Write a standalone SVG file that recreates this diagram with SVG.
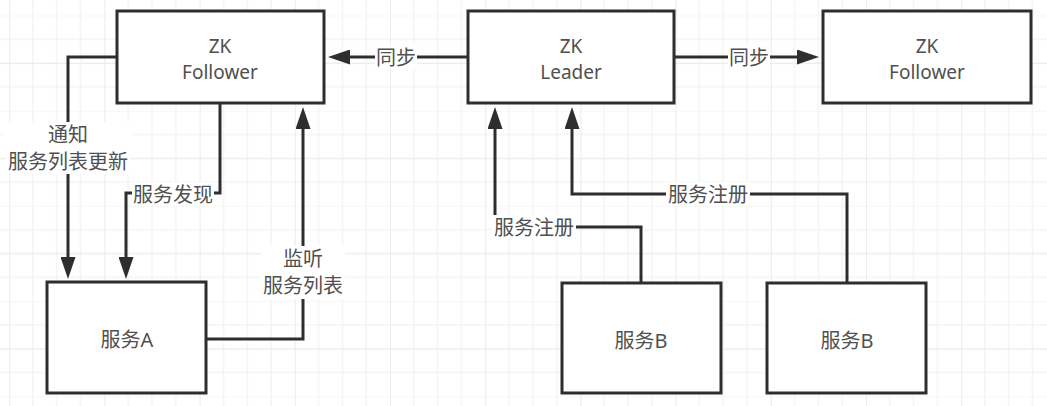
<svg xmlns="http://www.w3.org/2000/svg" width="1047" height="406" viewBox="0 0 1047 406">
<style>
  .box { fill: #ffffff; stroke: #2e2e2e; stroke-width: 3; }
  .edge { fill: none; stroke: #2e2e2e; stroke-width: 3; }
  .lbl { font-family: "Noto Sans", "Noto Sans CJK SC", sans-serif; font-size: 20px; fill: #505050; text-anchor: middle; dominant-baseline: central; }
  .zk { font-size: 19px; }
  .bg { fill: #ffffff; }
</style>
<defs>
  <pattern id="grid" patternUnits="userSpaceOnUse" x="9.2" y="15.5" width="95.2" height="95.2">
    <path d="M0 0V95.2M23.8 0V95.2M47.6 0V95.2M71.4 0V95.2M0 0H95.2M0 23.8H95.2M0 47.6H95.2M0 71.4H95.2" stroke="#efefef" stroke-width="1" fill="none"/>
  </pattern>
  <pattern id="gridmaj" patternUnits="userSpaceOnUse" x="9.2" y="63.1" width="95.2" height="95.2">
    <path d="M0 0V95.2M0 0H95.2" stroke="#e4e4e4" stroke-width="1" fill="none"/>
  </pattern>
  <marker id="arr" markerUnits="userSpaceOnUse" markerWidth="22" markerHeight="15" refX="0" refY="7.5" orient="auto">
    <path d="M0 0L22 7.5L0 15Z" fill="#2e2e2e"/>
  </marker>
</defs>
<rect width="1047" height="406" fill="#ffffff"/>
<rect width="1047" height="406" fill="url(#grid)"/>
<rect width="1047" height="406" fill="url(#gridmaj)"/>

<g id="connectors">
  <path class="edge" d="M468 57H350" marker-end="url(#arr)"/>
  <path class="edge" d="M674 57H797" marker-end="url(#arr)"/>
  <path class="edge" d="M117 57H68V257" marker-end="url(#arr)"/>
  <path class="edge" d="M220 103V193H126V257" marker-end="url(#arr)"/>
  <path class="edge" d="M206 339H303V129" marker-end="url(#arr)"/>
  <path class="edge" d="M641 283V227H495V129" marker-end="url(#arr)"/>
  <path class="edge" d="M847 283V194H572V129" marker-end="url(#arr)"/>

  <rect class="bg" x="375" y="45" width="42" height="24"/>
  <text class="lbl" x="396" y="57">同步</text>
  <rect class="bg" x="728" y="45" width="42" height="24"/>
  <text class="lbl" x="749" y="57">同步</text>
  <rect class="bg" x="5" y="122" width="126" height="52"/>
  <text class="lbl" x="68" y="134">通知<tspan x="68" dy="27">服务列表更新</tspan></text>
  <rect class="bg" x="132" y="182" width="82" height="24"/>
  <text class="lbl" x="173" y="194">服务发现</text>
  <rect class="bg" x="261" y="246" width="84" height="53"/>
  <text class="lbl" x="303" y="258">监听<tspan x="303" dy="27">服务列表</tspan></text>
  <rect class="bg" x="492" y="215" width="84" height="24"/>
  <text class="lbl" x="534" y="227">服务注册</text>
  <rect class="bg" x="666" y="182" width="84" height="24"/>
  <text class="lbl" x="708" y="194">服务注册</text>
</g>

<g id="follower-left">
  <rect class="box" x="117" y="11" width="207" height="92"/>
  <text class="lbl zk" x="220" y="46">ZK<tspan x="220" dy="26">Follower</tspan></text>
</g>
<g id="leader">
  <rect class="box" x="468" y="11" width="206" height="92"/>
  <text class="lbl zk" x="571" y="46">ZK<tspan x="571" dy="26">Leader</tspan></text>
</g>
<g id="follower-right">
  <rect class="box" x="823" y="11" width="208" height="92"/>
  <text class="lbl zk" x="927" y="46">ZK<tspan x="927" dy="26">Follower</tspan></text>
</g>
<g id="service-a">
  <rect class="box" x="47" y="282" width="159" height="111"/>
  <text class="lbl" x="127" y="339">服务A</text>
</g>
<g id="service-b1">
  <rect class="box" x="562" y="283" width="159" height="110"/>
  <text class="lbl" x="641" y="340">服务B</text>
</g>
<g id="service-b2">
  <rect class="box" x="767" y="283" width="159" height="110"/>
  <text class="lbl" x="847" y="340">服务B</text>
</g>
</svg>
